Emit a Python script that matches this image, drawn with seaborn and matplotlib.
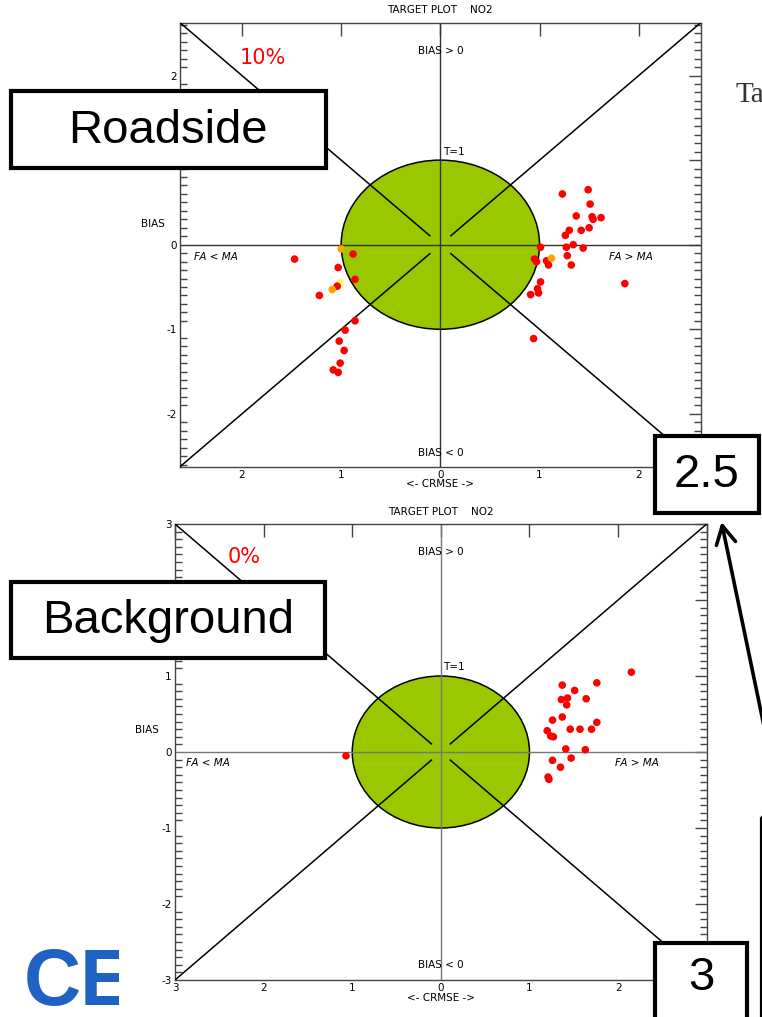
import matplotlib
matplotlib.use("Agg")
import numpy as np
import pandas as pd
import matplotlib.pyplot as plt
import matplotlib.transforms as mtransforms
from matplotlib.patches import Ellipse, Rectangle, FancyArrowPatch
from matplotlib.ticker import MultipleLocator, FixedLocator
import seaborn as sns

sns.set_theme(style="white")
plt.rcParams["font.family"] = ["DejaVu Sans"]

# ---- Roadside stations: signed CRMSE (x), normalised BIAS (y), marker class
road_crmse = [-1.47, -1.00, -0.88, -1.03, -1.01, -1.04, -1.09, -0.86, -1.22,
              -0.86, -0.96, -1.02, -0.97, -1.01, -1.08, -1.03,
              1.23, 1.49, 1.51, 1.37, 1.53, 1.54, 1.62, 1.30, 1.42, 1.50,
              1.26, 1.01, 1.27, 1.34, 1.44, 0.95, 0.97, 1.07, 1.12, 1.09,
              1.28, 1.32, 1.86, 1.01, 0.98, 0.99, 0.91, 0.94]
road_bias = [-0.17, -0.05, -0.11, -0.27, -0.45, -0.49, -0.53, -0.41, -0.60,
             -0.90, -1.01, -1.14, -1.25, -1.40, -1.48, -1.51,
             0.60, 0.65, 0.48, 0.34, 0.33, 0.30, 0.32, 0.17, 0.17, 0.20,
             0.11, -0.03, -0.03, 0.00, -0.04, -0.17, -0.20, -0.19, -0.16, -0.24,
             -0.13, -0.24, -0.46, -0.44, -0.52, -0.57, -0.59, -1.11]
road_class = ["red", "orange", "red", "red", "yellow", "red", "orange", "red", "red",
              "red", "red", "red", "red", "red", "red", "red",
              "red", "red", "red", "red", "red", "red", "red", "red", "red", "red",
              "red", "red", "red", "red", "red", "red", "red", "red", "orange", "red",
              "red", "red", "red", "red", "red", "red", "red", "red"]

# ---- Background stations
bg_crmse = [2.15, 1.37, 1.76, 1.51, 1.36, 1.43, 1.42, 1.64, 1.26, 1.37, 1.76,
            1.20, 1.24, 1.27, 1.46, 1.57, 1.70, 1.41, 1.63, 1.26, 1.47, 1.35,
            1.21, 1.22, -1.07]
bg_bias = [1.05, 0.88, 0.91, 0.81, 0.69, 0.71, 0.62, 0.70, 0.42, 0.46, 0.39,
           0.28, 0.21, 0.20, 0.30, 0.30, 0.30, 0.04, 0.03, -0.11, -0.08, -0.20,
           -0.33, -0.36, -0.05]
bg_class = ["red"] * len(bg_crmse)

class_colors = {"red": "#ff0000", "orange": "#ffa200", "yellow": "#ffff55"}

road_df = pd.DataFrame({"crmse": road_crmse, "bias": road_bias, "cls": road_class})
bg_df = pd.DataFrame({"crmse": bg_crmse, "bias": bg_bias, "cls": bg_class})

W, H = 762, 1017
fig = plt.figure(figsize=(W / 100, H / 100), dpi=100)
fig.patch.set_facecolor("white")


def px_axes(x0, y0, x1, y1, **kw):
    return fig.add_axes([x0 / W, 1 - y1 / H, (x1 - x0) / W, (y1 - y0) / H], **kw)


GREEN = "#99c800"
FS = 7.5


def target_panel(ax, df, lim, xticks, yticks, cross_color, txt, hide_x=(), hide_y=()):
    ax.set_xlim(-lim, lim)
    ax.set_ylim(-lim, lim)
    ax.set_facecolor("white")
    ax.add_patch(Ellipse((0, 0), 2, 2, fc=GREEN, ec="black", lw=1.1, zorder=1))
    ax.axhline(0, color=cross_color, lw=1.0, zorder=2)
    ax.axvline(0, color=cross_color, lw=1.0, zorder=2)
    for sx in (-1, 1):
        for sy in (-1, 1):
            ax.plot([sx * lim, sx * 0.1], [sy * lim, sy * 0.1],
                    color="black", lw=1.1, zorder=3, solid_capstyle="butt")
    sns.scatterplot(data=df, x="crmse", y="bias", hue="cls", palette=class_colors,
                    hue_order=["red", "orange", "yellow"], s=30, edgecolor="none",
                    linewidth=0, legend=False, ax=ax, zorder=4)
    ax.set_xlabel("")
    ax.set_ylabel("")
    ax.xaxis.set_major_locator(FixedLocator(xticks))
    ax.set_xticklabels(["" if t in hide_x else str(abs(t)) for t in xticks])
    ax.yaxis.set_major_locator(FixedLocator(yticks))
    ax.set_yticklabels(["" if t in hide_y else str(t) for t in yticks])
    ax.yaxis.set_minor_locator(MultipleLocator(0.1))
    ax.tick_params(axis="both", which="major", direction="in", length=9, width=1,
                   color="#444444", labelsize=FS, pad=2.5, top=True, right=True,
                   labelcolor="black")
    ax.tick_params(axis="y", which="minor", direction="in", length=5, width=1,
                   color="#444444", left=True, right=True)
    ax.tick_params(axis="x", which="minor", bottom=False, top=False)
    for sp in ax.spines.values():
        sp.set_color("#444444")
        sp.set_linewidth(1.0)
        sp.set_visible(True)

    tk = dict(fontsize=FS, color="black", zorder=5)
    ax.text(0, txt["bias_pos"], "BIAS > 0", ha="center", va="center", **tk)
    ax.text(0, txt["bias_neg"], "BIAS < 0", ha="center", va="center", **tk)
    ax.text(txt["fa_lt"], -0.15, "FA < MA", ha="left", va="center", style="italic", **tk)
    ax.text(txt["fa_gt"], -0.15, "FA > MA", ha="left", va="center", style="italic", **tk)
    ax.text(0.03, txt["t1"], "T=1", ha="left", va="center", **tk)
    blend = mtransforms.blended_transform_factory(ax.transAxes, ax.transData)
    ax.text(txt["ylab_x"], txt["ylab_y"], "BIAS", ha="center", va="center",
            transform=blend, clip_on=False, **tk)
    ax.text(0.5, -txt["xlab_off"], "<- CRMSE ->", ha="center", va="center",
            transform=ax.transAxes, clip_on=False, **tk)
    ax.text(0.5, 1 + txt["title_off"], "TARGET PLOT    NO2", ha="center", va="center",
            transform=ax.transAxes, clip_on=False, **tk)
    ax.text(txt["pct_x"], txt["pct_y"], txt["pct"], ha="center", va="center",
            fontsize=15, color="#ff0000", zorder=5)


# Roadside panel (the "1" label sits under the panel's name box)
ax1 = px_axes(180, 22.7, 700.7, 466.7)
target_panel(ax1, road_df, 2.625, [-2, -1, 0, 1, 2], [-2, -1, 0, 1, 2], "#333333",
             dict(bias_pos=2.29, bias_neg=-2.46, fa_lt=-2.48, fa_gt=1.70, t1=1.10,
                  ylab_x=-0.052, ylab_y=0.24, xlab_off=17.5 / 444, title_off=12.5 / 444,
                  pct_x=-1.79, pct_y=2.21, pct="10%"),
             hide_y=(1,))

# Background panel
ax2 = px_axes(175, 524, 706.7, 980)
target_panel(ax2, bg_df, 3.0, [-3, -2, -1, 0, 1, 2, 3], [-3, -2, -1, 0, 1, 2, 3], "#777777",
             dict(bias_pos=2.63, bias_neg=-2.80, fa_lt=-2.88, fa_gt=1.97, t1=1.12,
                  ylab_x=-0.053, ylab_y=0.29, xlab_off=18 / 456, title_off=12 / 456,
                  pct_x=-2.22, pct_y=2.57, pct="0%"),
             hide_x=(3,), hide_y=(2,))

# ---- Overlay in pixel coordinates: labelled boxes, arrow, page fragments
ov = fig.add_axes([0, 0, 1, 1], zorder=10)
ov.set_xlim(0, W)
ov.set_ylim(H, 0)
ov.axis("off")
ov.patch.set_visible(False)

box_kw = dict(fc="white", ec="black", lw=3.0, joinstyle="miter")
big = dict(fontsize=34, family="Liberation Sans", color="black", ha="center", va="center")

ov.add_patch(Rectangle((11, 91), 314.5, 77, **box_kw))
ov.text(168, 131, "Roadside", **big)

ov.add_patch(Rectangle((11, 582), 314, 76, **box_kw))
ov.text(168, 621, "Background", **big)

ov.add_patch(Rectangle((655, 436), 104, 76.5, **box_kw))
ov.text(707, 475, "2.5", **big)

ov.add_patch(Rectangle((655, 943), 91.5, 100, **box_kw))
ov.text(701, 978, "3", **big)

ov.add_patch(Rectangle((761, 817), 40, 260, fc="none", ec="black", lw=1.6))

ov.add_patch(FancyArrowPatch((770, 755), (721.5, 522),
                             arrowstyle="->,head_length=0.65,head_width=0.35",
                             mutation_scale=20, lw=2.6, color="black",
                             shrinkA=0, shrinkB=0))

ov.text(736, 95, "Ta", fontsize=21, family="Liberation Serif", color="#333333",
        ha="left", va="center")

# Logo fragment, clipped at its right edge
lg = px_axes(0, 930, 118.5, 1015, zorder=9)
lg.set_xlim(0, 118.5)
lg.set_ylim(1015, 930)
lg.axis("off")
lg.text(24, 1005, "CE", fontsize=57, family="Liberation Sans", weight="bold",
        color="#1f62c4", ha="left", va="baseline", clip_on=True)

fig.savefig("out.png", dpi=100, facecolor="white")
